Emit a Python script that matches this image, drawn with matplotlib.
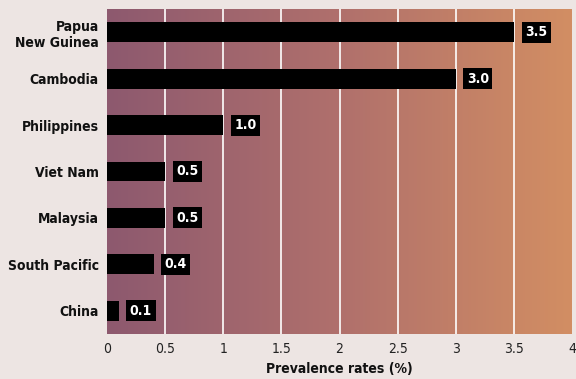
import numpy as np
import matplotlib
matplotlib.use("Agg")
import matplotlib.pyplot as plt
from matplotlib import font_manager
from matplotlib.colors import LinearSegmentedColormap

countries = ["Papua\nNew Guinea", "Cambodia", "Philippines", "Viet Nam",
             "Malaysia", "South Pacific", "China"]
rates = [3.5, 3.0, 1.0, 0.5, 0.5, 0.4, 0.1]
xticks = [0, 0.5, 1, 1.5, 2, 2.5, 3, 3.5, 4]
xtick_labels = ["0", "0.5", "1", "1.5", "2", "2.5", "3", "3.5", "4"]

# look for a condensed / narrow face
files = [f.fname for f in font_manager.fontManager.ttflist]
def find(keys):
    for k in keys:
        for fn in files:
            if k in fn:
                return fn
    return None

bold_file = find(["LiberationSansNarrow-Bold.", "DejaVuSansCondensed-Bold.",
                  "SemiCondensed-Bold", "Condensed-Bold."])
reg_file = find(["LiberationSansNarrow-Regular.", "DejaVuSansCondensed.",
                 "SemiCondensed-Light", "Condensed-Light.", "Condensed-Regular."])
if bold_file:
    fb = font_manager.FontProperties(fname=bold_file)
else:
    fb = font_manager.FontProperties(family="DejaVu Sans", weight="bold")
if reg_file:
    fr = font_manager.FontProperties(fname=reg_file)
else:
    fr = font_manager.FontProperties(family="DejaVu Sans")

bg = "#ede5e3"
fig = plt.figure(figsize=(5.76, 3.79), dpi=100, facecolor=bg)
ax = fig.add_axes([0.186, 0.119, 0.807, 0.857])

# gradient plot area
cmap = LinearSegmentedColormap.from_list("grad", ["#8d596f", "#b0706c", "#d28e63"])
grad = np.linspace(0, 1, 256).reshape(1, -1)
ax.imshow(grad, cmap=cmap, aspect="auto", extent=[0, 4, 6.5, -0.5], zorder=0)

y = np.arange(len(countries))
for gx in xticks[1:-1]:
    ax.axvline(gx, color="white", lw=1.2, zorder=1)

ax.barh(y, rates, height=0.43, color="black", zorder=2)

for yi, v in zip(y, rates):
    ax.annotate(f"{v:.1f}", (v, yi), xytext=(8, 0), textcoords="offset points",
                ha="left", va="center", color="white", fontproperties=fb,
                fontsize=10, zorder=3,
                bbox=dict(boxstyle="square,pad=0.25", fc="black", ec="none"))

ax.set_xlim(0, 4)
ax.set_ylim(6.5, -0.5)
ax.set_yticks(y)
ax.set_yticklabels(countries, fontproperties=fb, fontsize=10, color="#111111")
ax.set_xticks(xticks)
ax.set_xticklabels(xtick_labels, fontproperties=fr, fontsize=10, color="#222222")
ax.tick_params(length=0, pad=6)
ax.tick_params(axis="x", pad=6)
for s in ax.spines.values():
    s.set_visible(False)
ax.set_xlabel("Prevalence rates (%)", fontproperties=fb, fontsize=10,
              color="#111111", labelpad=4)

fig.savefig("out.png", dpi=100, facecolor=bg)
